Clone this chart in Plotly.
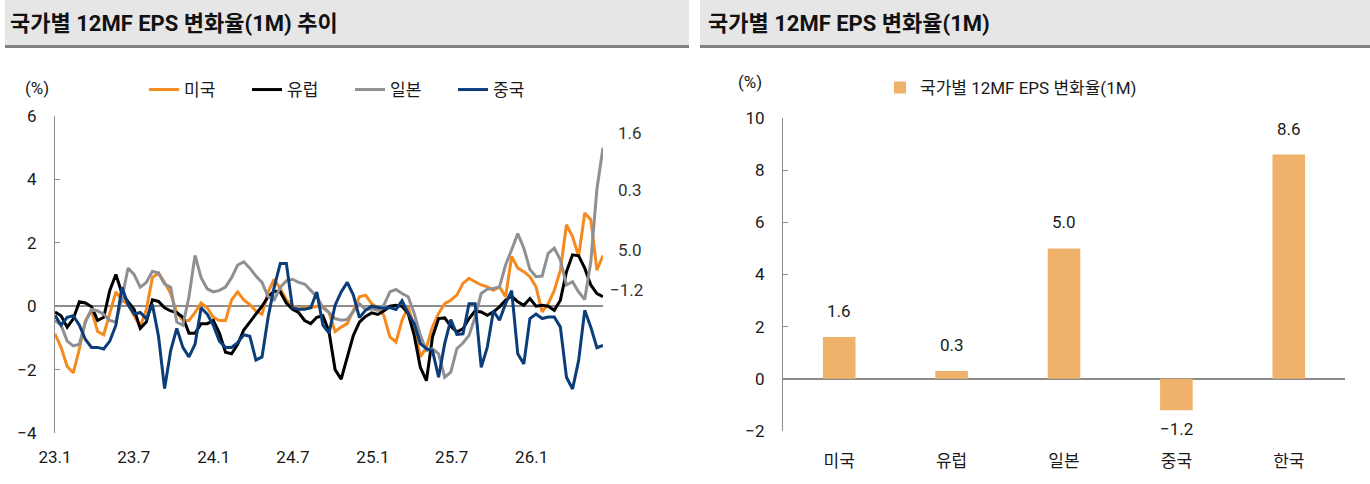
import plotly.graph_objects as go
import pandas as pd

# ---------------- data ----------------
start_date = "2023-01-01"
n_points = 91
dates = pd.date_range(start=start_date, periods=n_points, freq="14D")

us = [-0.87, -1.3, -1.9, -2.1, -1.35, -0.45, -0.13, -0.8, -0.9, -0.2,
      0.45, 0.2, 0.05, -0.3, -0.65, -0.1, 0.9, 1.05, 0.75, 0.4,
      -0.2, -0.45, -0.45, -0.2, 0.1, -0.05, -0.35, -0.45, -0.45, 0.2,
      0.45, 0.2, 0.05, -0.15, -0.25, 0.45, 0.85, 0.55, 0.2, 0.0,
      -0.1, -0.05, -0.05, 0.0, 0.0, -0.2, -0.8, -0.66, -0.55, -0.13,
      0.3, 0.35, 0.08, -0.04, -0.29, -0.97, -1.13, -0.44, -0.02, -0.66,
      -1.6, -1.3, -0.65, -0.23, 0.08, 0.19, 0.35, 0.72, 0.88, 0.77,
      0.67, 0.61, 0.5, 0.61, 0.3, 1.57, 1.2, 1.09, 0.93, 0.61,
      -0.18, 0.08, 0.5, 1.14, 2.57, 2.2, 1.57, 2.94, 2.73, 1.14, 1.6]

eu = [-0.18, -0.3, -0.66, -0.4, 0.14, 0.1, -0.02, -0.45, -0.35, 0.5,
      1.0, 0.4, 0.14, -0.1, -0.7, -0.5, 0.2, 0.15, -0.05, -0.15,
      -0.2, -0.35, -0.85, -0.85, -0.55, -0.55, -0.45, -0.85, -1.45, -1.5,
      -1.2, -0.75, -0.5, -0.25, 0.0, 0.3, 0.48, 0.45, 0.1, -0.1,
      -0.2, -0.45, -0.55, -0.35, -0.3, -0.8, -2.0, -2.3, -1.6, -0.92,
      -0.5, -0.32, -0.21, -0.26, -0.15, 0.0, 0.03, 0.0, -0.23, -0.92,
      -1.93, -2.35, -0.97, -0.39, -0.37, -0.63, -0.81, -0.71, -0.39, -0.15,
      -0.18, -0.29, -0.18, -0.02, 0.19, 0.32, 0.14, 0.03, 0.24, 0.0,
      0.03, 0.0, -0.13, 0.19, 1.09, 1.62, 1.59, 1.2, 0.67, 0.4, 0.3]

jp = [-0.45, -0.6, -1.1, -1.25, -1.2, -0.5, -0.1, -0.15, -0.25, -0.45,
      -0.5, 0.25, 1.2, 1.0, 0.6, 0.75, 1.1, 1.05, 0.7, 0.6,
      -0.5, -0.6, 0.3, 1.6, 0.9, 0.55, 0.45, 0.5, 0.6, 0.9,
      1.3, 1.4, 1.2, 0.95, 0.75, 0.3, 0.2, 0.6, 0.8, 0.85,
      0.75, 0.7, 0.5, 0.3, -0.05, -0.2, -0.39, -0.44, -0.42, -0.18,
      0.08, -0.1, -0.08, -0.13, 0.03, 0.45, 0.53, 0.4, 0.3, -0.23,
      -0.92, -1.4, -1.34, -1.5, -2.24, -2.08, -1.34, -1.16, -0.92, -0.34,
      0.4, 0.54, 0.56, 0.61, 1.3, 1.78, 2.29, 1.83, 1.16, 0.93,
      0.95, 1.67, 1.83, 1.46, 0.67, 0.77, 0.45, 0.21, 1.4, 3.7, 5.0]

cn = [-0.29, -0.6, -0.35, -0.3, -0.6, -1.05, -1.3, -1.3, -1.35, -1.1,
      -0.6, 0.6, 0.05, -0.25, -0.2, -0.4, 0.05, -0.95, -2.6, -1.4,
      -0.7, -1.3, -1.6, -1.2, -0.05, -0.25, -0.6, -1.1, -1.3, -1.3,
      -1.15, -0.9, -0.95, -1.7, -1.6, -0.35, 0.6, 1.35, 1.35, -0.05,
      -0.1, -0.1, -0.05, 0.45, -0.6, -0.85, 0.03, 0.45, 0.75, 0.35,
      -0.36, -0.13, 0.0, -0.04, -0.07, -0.04, -0.1, 0.17, -0.23, -0.55,
      -1.18, -1.34, -1.4, -2.24, -1.18, -0.42, -0.89, -0.87, 0.08, 0.08,
      -1.93, -1.29, -0.15, -0.44, 0.08, 0.49, -1.5, -1.82, -0.39, -0.25,
      -0.39, -0.34, -0.34, -0.66, -2.24, -2.61, -1.71, -0.13, -0.66, -1.31, -1.24]

series_names = ["미국", "유럽", "일본", "중국"]
series_colors = ["#F58A1F", "#000000", "#8E9093", "#0B3D7A"]

tick_dates = ["2023-01-01", "2023-07-01", "2024-01-01", "2024-07-01",
              "2025-01-01", "2025-07-01", "2026-01-01"]
tick_labels = ["23.1", "23.7", "24.1", "24.7", "25.1", "25.7", "26.1"]

bar_categories = ["미국", "유럽", "일본", "중국", "한국"]
bar_values = [1.6, 0.3, 5.0, -1.2, 8.6]
bar_name = "국가별 12MF EPS 변화율(1M)"

title_left = "국가별 12MF EPS 변화율(1M) 추이"
title_right = "국가별 12MF EPS 변화율(1M)"

# ---------------- layout helpers ----------------
W, H = 1370, 484
FONT = "Roboto, 'Noto Sans CJK KR', sans-serif"
AXC = "#8C8C8C"
TXT = "#1a1a1a"


def fx(px):
    return px / W


def fy(px):
    return 1 - px / H


def fmt(v):
    s = f"{v:.1f}"
    return s.replace("-", "\u2212")


def fmt_int(v):
    return str(v).replace("-", "\u2212")


fig = go.Figure()

for name, vals, col in zip(series_names, [us, eu, jp, cn], series_colors):
    fig.add_trace(go.Scatter(x=dates, y=vals, mode="lines", name=name,
                             line=dict(color=col, width=3),
                             xaxis="x", yaxis="y", legend="legend"))

fig.add_trace(go.Bar(x=bar_categories, y=bar_values, name=bar_name,
                     marker=dict(color="#F0B26B", line=dict(width=0)),
                     width=0.29, xaxis="x2", yaxis="y2", legend="legend2",
                     showlegend=True))

yt_left = list(range(-4, 7, 2))
yt_right = list(range(-2, 11, 2))

fig.update_layout(
    width=W, height=H,
    margin=dict(l=0, r=0, t=0, b=0, pad=0, autoexpand=False),
    paper_bgcolor="white", plot_bgcolor="rgba(0,0,0,0)",
    font=dict(family=FONT, size=17, color=TXT),
    xaxis=dict(domain=[fx(55), fx(603)], type="date",
               range=[dates[0], dates[-1]],
               tickvals=tick_dates, ticktext=tick_labels,
               showline=False, ticks="", showgrid=False, zeroline=False,
               anchor="y", ticklabelstandoff=12,
               tickfont=dict(size=17, color=TXT)),
    yaxis=dict(domain=[fy(433), fy(116)], range=[-4, 6],
               tickvals=yt_left, ticktext=[fmt_int(v) for v in yt_left],
               showline=True, linecolor=AXC, linewidth=1,
               ticks="inside", ticklen=5, tickcolor=AXC,
               showgrid=False, zeroline=True, zerolinecolor=AXC,
               zerolinewidth=1.5, anchor="x", ticklabelstandoff=14,
               tickfont=dict(size=17, color=TXT)),
    xaxis3=dict(overlaying="x", anchor="free", position=fy(306), type="date",
                range=[dates[0], dates[-1]], tickvals=tick_dates,
                showticklabels=False, ticks="inside", ticklen=5, tickcolor=AXC,
                showline=False, showgrid=False, zeroline=False),
    xaxis2=dict(domain=[fx(783), fx(1345)], type="category",
                categoryorder="array", categoryarray=bar_categories,
                range=[-0.5, 4.5], showline=False, ticks="", showgrid=False,
                zeroline=False, anchor="y2", ticklabelstandoff=18,
                tickfont=dict(size=17, color=TXT)),
    yaxis2=dict(domain=[fy(431), fy(118)], range=[-2, 10],
                tickvals=yt_right, ticktext=[fmt_int(v) for v in yt_right],
                showline=True, linecolor=AXC, linewidth=1,
                ticks="inside", ticklen=5, tickcolor=AXC,
                showgrid=False, zeroline=True, zerolinecolor=AXC,
                zerolinewidth=1.5, anchor="x2", ticklabelstandoff=14,
                tickfont=dict(size=17, color=TXT)),
    xaxis4=dict(overlaying="x2", anchor="free", position=fy(379),
                type="category", categoryorder="array",
                categoryarray=bar_categories, range=[-0.5, 4.5],
                tickson="boundaries", tickvals=bar_categories,
                showticklabels=False, ticks="inside", ticklen=5,
                tickcolor=AXC, showline=False, showgrid=False, zeroline=False),
    legend=dict(orientation="h", x=fx(144), y=fy(90), xanchor="left",
                yanchor="middle", font=dict(size=17, color=TXT),
                bgcolor="rgba(0,0,0,0)", entrywidth=58,
                entrywidthmode="pixels", itemclick=False),
    legend2=dict(orientation="h", x=fx(880), y=fy(88), xanchor="left",
                 yanchor="middle", font=dict(size=17, color=TXT),
                 bgcolor="rgba(0,0,0,0)"),
    bargap=0.7,
    showlegend=True,
)

shapes = [
    dict(type="rect", xref="paper", yref="paper", x0=fx(5), x1=fx(689),
         y0=fy(45), y1=fy(0), fillcolor="#E6E6E6", line=dict(width=0),
         layer="below"),
    dict(type="rect", xref="paper", yref="paper", x0=fx(700), x1=fx(1370),
         y0=fy(45), y1=fy(0), fillcolor="#E6E6E6", line=dict(width=0),
         layer="below"),
    dict(type="rect", xref="paper", yref="paper", x0=fx(5), x1=fx(689),
         y0=fy(48), y1=fy(45), fillcolor="#808080", line=dict(width=0)),
    dict(type="rect", xref="paper", yref="paper", x0=fx(700), x1=fx(1370),
         y0=fy(48), y1=fy(45), fillcolor="#808080", line=dict(width=0)),
]
fig.update_layout(shapes=shapes)

ann = []
ann.append(dict(text=f"<b>{title_left}</b>", x=fx(8), y=fy(23), xref="paper",
                yref="paper", xanchor="left", yanchor="middle",
                showarrow=False, font=dict(size=22, color="#111111")))
ann.append(dict(text=f"<b>{title_right}</b>", x=fx(706), y=fy(23),
                xref="paper", yref="paper", xanchor="left", yanchor="middle",
                showarrow=False, font=dict(size=22, color="#111111")))
ann.append(dict(text="(%)", x=fx(37), y=fy(88), xref="paper", yref="paper",
                xanchor="center", yanchor="middle", showarrow=False,
                font=dict(size=17, color=TXT)))
ann.append(dict(text="(%)", x=fx(750), y=fy(82), xref="paper", yref="paper",
                xanchor="center", yanchor="middle", showarrow=False,
                font=dict(size=17, color=TXT)))

# end-value labels at right of the line chart
last_vals = [us[-1], eu[-1], jp[-1], cn[-1]]
label_y = [133, 190, 250, 290]
for v, ypx in zip(last_vals, label_y):
    xpx = 616 if v >= 0 else 608
    ann.append(dict(text=fmt(v), x=fx(xpx), y=fy(ypx), xref="paper",
                    yref="paper", xanchor="left", yanchor="middle",
                    showarrow=False, font=dict(size=17, color="#333333")))

# bar value labels
for c, v in zip(bar_categories, bar_values):
    ann.append(dict(text=fmt(v), x=c, y=v, xref="x2", yref="y2",
                    xanchor="center",
                    yanchor="bottom" if v >= 0 else "top",
                    yshift=14 if v >= 0 else -7, showarrow=False,
                    font=dict(size=17, color=TXT)))

fig.update_layout(annotations=ann)

fig.write_html("out.html",
               config={"displayModeBar": False},
               post_script="document.body.style.margin='0px';")
